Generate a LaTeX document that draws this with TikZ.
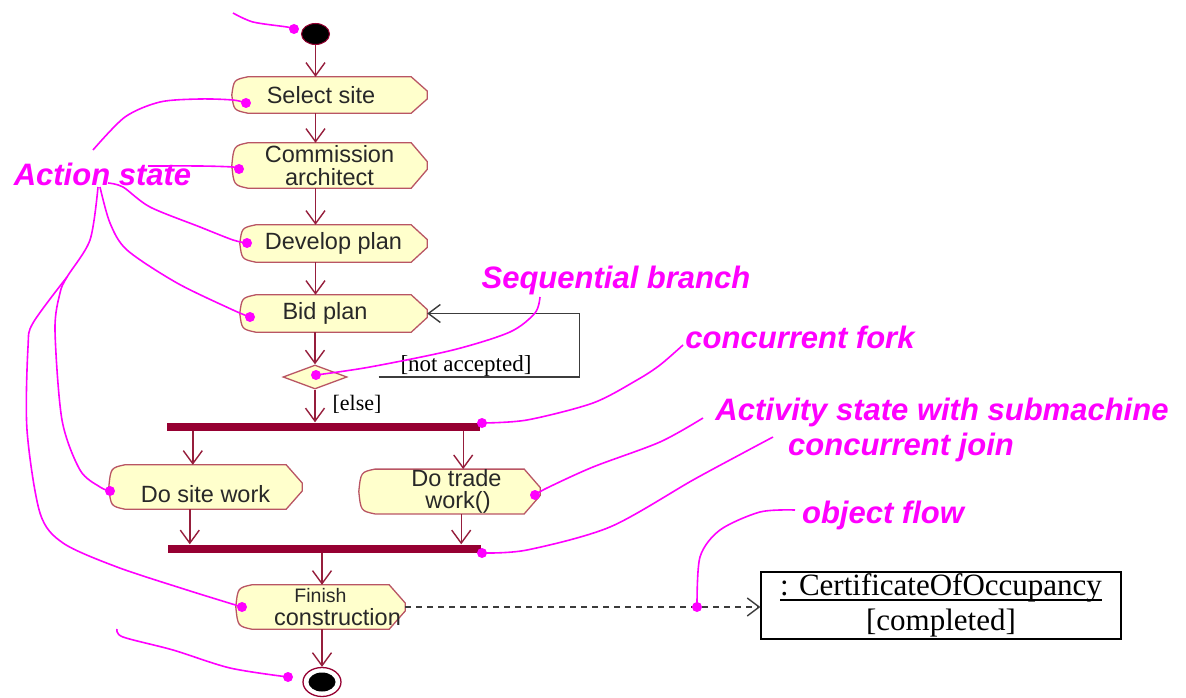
\documentclass[tikz,border=0pt]{standalone}
\usepackage{fontspec}
\setmainfont{Liberation Sans}
\newfontfamily\serifTNR{Liberation Serif}
\usetikzlibrary{arrows.meta,calc,shapes.geometric,backgrounds}
\definecolor{mag}{RGB}{255,0,255}
\definecolor{barcol}{RGB}{150,0,50}
\definecolor{arrcol}{RGB}{150,30,60}
\definecolor{boxline}{RGB}{185,85,100}
\definecolor{boxfill}{RGB}{255,255,204}
\definecolor{txt}{RGB}{40,40,40}
\definecolor{loopcol}{RGB}{60,60,60}
\newcommand\myul[1]{\setbox0\hbox{#1}\rlap{\rule[-5pt]{\wd0}{1.2pt}}\box0}
\newcommand\actshape[1]{%
  \draw[draw=boxline, fill=boxfill, line width=1.3pt]
  ($(#1.north west)+(16,0)$) -- ($(#1.north east)+(-16,0)$) -- ($(#1.east)+(0,-4)$)
  -- ($(#1.east)+(0,4)$) -- ($(#1.south east)+(-16,0)$) -- ($(#1.south west)+(16,0)$)
  .. controls ($(#1.south west)+(2,-3)$) .. (#1.west)
  .. controls ($(#1.north west)+(2,3)$) .. cycle;}
\tikzset{
  flow/.style={draw=arrcol, line width=1.4pt, -{Straight Barb[length=13pt,width=19pt,line width=1.4pt]}},
  actnode/.style={inner sep=0pt, text=txt, font=\fontsize{23.5}{22.5}\selectfont, align=center},
  ann/.style={draw=mag, line width=1.6pt},
  labtext/.style={text=mag, font=\fontsize{31}{34}\selectfont\bfseries\itshape, inner sep=0pt},
  barnode/.style={fill=barcol, inner sep=0pt, minimum height=8pt},
  guard/.style={inner sep=0pt, text=black, font=\serifTNR\fontsize{23}{26}\selectfont},
  loopline/.style={draw=loopcol, line width=1.4pt, -{Straight Barb[length=12pt,width=18pt,line width=1.4pt]}},
  dashline/.style={draw=loopcol, line width=1.4pt, dash pattern=on 6pt off 5pt, -{Straight Barb[length=12pt,width=18pt,line width=1.4pt]}},
}
\begin{document}
\begin{tikzpicture}[x=1pt,y=-1pt]
\begin{scope}[on background layer]
\fill[white] (0,0) rectangle (1186,698);
\end{scope}
\useasboundingbox (0,0) rectangle (1186,698);

% action states
\node[actnode, minimum width=195pt, minimum height=36pt] (sel) at (329.5,95) {\hspace*{-17pt}Select site};
\node[actnode, minimum width=195pt, minimum height=45pt] (com) at (329.5,165.5) {Commission\\architect};
\node[actnode, minimum width=187pt, minimum height=37pt] (dev) at (333.5,243.5) {Develop plan};
\node[actnode, minimum width=187pt, minimum height=37pt] (bid) at (333.5,313.5) {\hspace*{-17pt}Bid plan};
\node[actnode, minimum width=193pt, minimum height=44pt] (site) at (205.5,487) {\raisebox{-15pt}[0pt][0pt]{Do site work}};
\node[actnode, minimum width=181pt, minimum height=41pt] (trade) at (449.5,491.5) {\hspace*{14pt}Do trade\\\hspace*{17pt}work()};
\node[actnode, minimum width=169pt, minimum height=44pt] (fin) at (320.5,607) {{\fontsize{19.5}{18}\selectfont Finish}\\\hspace*{34pt}construction};
\begin{scope}[on background layer]
\actshape{sel}\actshape{com}\actshape{dev}\actshape{bid}\actshape{site}\actshape{trade}\actshape{fin}
\end{scope}

% pseudo states and bars
\node[ellipse, fill=black, draw=barcol, line width=1pt, minimum width=28pt, minimum height=21pt, inner sep=0pt] (init) at (315.5,34) {};
\node[diamond, draw=boxline, fill=boxfill, line width=1.3pt, minimum width=64pt, minimum height=24pt, inner sep=0pt] (dec) at (315,377) {};
\node[barnode, minimum width=313pt] (fork) at (323.5,426.5) {};
\node[barnode, minimum width=313pt] (join) at (324.5,548.5) {};
\node[ellipse, fill=white, draw=barcol, line width=1.3pt, minimum width=38pt, minimum height=29pt, inner sep=0pt] (final) at (322,682) {};
\node[ellipse, fill=black, minimum width=27pt, minimum height=19pt, inner sep=0pt] (finalin) at (final) {};

% object
\node[draw=black, line width=1.3pt, minimum width=360pt, minimum height=67pt, inner sep=0pt, align=center,
      font=\serifTNR\fontsize{31}{35}\selectfont] (obj) at (941,605.5) {\myul{: CertificateOfOccupancy}\\{}[completed]};

% flows
\draw[flow] (init.south) -- (init.south |- sel.north);
\draw[flow] (sel.south -| init) -- (com.north -| init);
\draw[flow] (com.south -| init) -- (dev.north -| init);
\draw[flow] (dev.south -| init) -- (bid.north -| init);
\draw[flow] (bid.south -| dec) -- (dec.north);
\draw[flow] (dec.south) -- (dec.south |- fork.north);
\draw[flow] ([xshift=26pt]fork.south west) -- ([xshift=26pt]fork.south west |- site.north);
\draw[flow] ([xshift=-17pt]fork.south east) -- ([xshift=-17pt]fork.south east |- trade.north);
\draw[flow] ([xshift=22pt]join.north west |- site.south) -- ([xshift=22pt]join.north west);
\draw[flow] ([xshift=-20pt]join.north east |- trade.south) -- ([xshift=-20pt]join.north east);
\draw[flow] (join.south -| final) -- (fin.north -| final);
\draw[flow] (fin.south -| final) -- (final.north);
\draw[loopline, shorten <=31pt] (dec.east) -- ++(232,0) |- (bid.east);
\draw[dashline] (fin.east) -- (fin.east -| obj.west);

% guards
\node[guard] (na) at (466,366) {[not accepted]};
\node[guard, font=\serifTNR\fontsize{22}{24}\selectfont] (else) at (357,404) {[else]};

% annotation labels
\node[labtext] (astate) at (102.5,174) {Action state};
\node[labtext] (seq) at (616,280) {Sequential branch};
\node[labtext] (cfork) at (800,337) {concurrent fork};
\node[labtext] (actsub) at (942,412) {Activity state with submachine};
\node[labtext] (cjoin) at (901,447) {concurrent join};
\node[labtext] (oflow) at (883,515) {object flow};

% annotation lines
\draw[ann] plot[smooth] coordinates {(233,13) (253,22) (287,27) (294,29)};
\draw[ann] plot[smooth] coordinates {(93,150) (125,117) (160,102) (200,99) (233,100) (246,103)};
\draw[ann] plot[smooth] coordinates {(148,166) (200,166) (233,167) (239,169)};
\draw[ann] plot[smooth] coordinates {(108,183) (123,187) (150,207) (200,227) (233,240) (247,243)};
\draw[ann] plot[smooth] coordinates {(100,187) (110,223) (127,250) (177,283) (233,310) (250,317)};
\draw[ann] plot[smooth] coordinates {(98,187) (90,240) (67,277) (60,293) (55,330) (62,420) (80,470) (100,487) (110,491)};
\draw[ann] plot[smooth] coordinates {(67,277) (33,323) (28,347) (27,430) (40,513) (63,543) (117,567) (187,590) (242,607)};
\draw[ann] plot[smooth] coordinates {(117,629) (123,637) (173,650) (230,668) (288,677)};
\draw[ann] plot[smooth] coordinates {(540,297) (535,313) (510,332) (453,350) (370,367) (316,375)};
\draw[ann] plot[smooth] coordinates {(683,345) (660,365) (637,380) (593,403) (527,420) (482,423)};
\draw[ann] plot[smooth] coordinates {(703,418) (660,442) (593,467) (547,488) (535,495)};
\draw[ann] plot[smooth] coordinates {(773,437) (743,453) (693,480) (610,527) (527,550) (482,553)};
\draw[ann] plot[smooth] coordinates {(795,510) (760,512) (720,530) (700,557) (697,607)};
\foreach \p in {(294,29),(246,103),(239,169),(247,243),(250,317),(110,491),(242,607),(288,677),(316,375),(482,423),(535,495),(482,553),(697,607)}
  \fill[mag] \p circle (5pt);
\end{tikzpicture}
\end{document}
